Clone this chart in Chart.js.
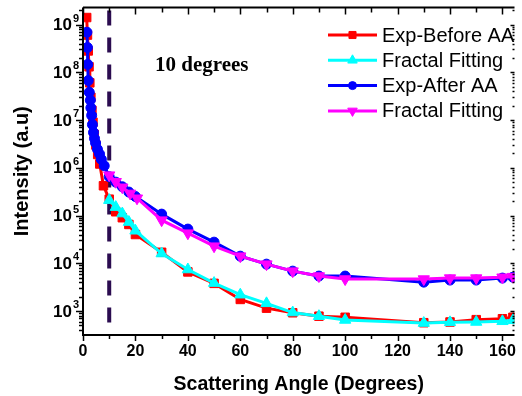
<!DOCTYPE html>
<html>
<head>
<meta charset="utf-8">
<script src="https://cdn.jsdelivr.net/npm/chart.js@4/dist/chart.umd.min.js"></script>
<style>
html, body { margin: 0; padding: 0; background: #fff; }
canvas { display: block; }
</style>
</head>
<body>
<canvas id="chart" width="522" height="396"></canvas>
<script>
// values
var beforeX = [1.4, 1.7, 2.0, 2.3, 2.6, 3.0, 3.4, 3.8, 4.3, 4.9, 5.6, 6.4, 7.8, 10, 12.5, 15, 17.5, 20, 30, 40, 50, 60, 70, 80, 90, 100, 130, 140, 150, 160, 164];
var beforeY = [1.4e9, 6e8, 2.8e8, 1.3e8, 6e7, 3e7, 1.6e7, 9e6, 5e6, 3e6, 1.9e6, 1.2e6, 4.2e5, 2.2e5, 1.2e5, 9e4, 6.5e4, 4e4, 1.7e4, 6.6e3, 3.8e3, 1750, 1150, 920, 780, 740, 570, 590, 660, 690, 740];

var fitBeforeX = [10, 12.5, 15, 17.5, 20, 30, 40, 50, 60, 70, 80, 90, 100, 130, 140, 150, 160, 164];
var fitBeforeY = [2.1e5, 1.5e5, 1.1e5, 7.3e4, 4.8e4, 1.6e4, 7.4e3, 3.85e3, 2.2e3, 1450, 930, 780, 650, 560, 580, 590, 610, 640];

var afterX = [1.5, 1.7, 1.8, 2.0, 2.4, 2.8, 3.0, 3.3, 3.6, 4.0, 4.4, 4.8, 5.5, 6.3, 7.0, 8.1, 10, 12.5, 15, 17.5, 20, 30, 40, 50, 60, 70, 80, 90, 100, 130, 140, 150, 160, 164];
var afterY = [6.9e8, 3.3e8, 1.46e8, 6.7e7, 3.8e7, 2.6e7, 1.8e7, 1.25e7, 8e6, 5.5e6, 4.1e6, 3.3e6, 2.45e6, 1.95e6, 1.5e6, 1.1e6, 6.5e5, 5e5, 4e5, 3.1e5, 2.5e5, 1.07e5, 5.2e4, 2.77e4, 1.41e4, 9.6e3, 6.85e3, 5.4e3, 5.4e3, 4.03e3, 4.45e3, 4.45e3, 4.9e3, 5.1e3];

var fitAfterX = [10, 12.5, 15, 18, 20.6, 30, 40, 50, 60, 70, 80, 90, 100, 130, 140, 150, 160, 164];
var fitAfterY = [7e5, 5.1e5, 3.9e5, 2.9e5, 2.3e5, 8e4, 4.27e4, 2.28e4, 1.41e4, 9.6e3, 6.85e3, 5.4e3, 4.67e3, 4.67e3, 4.9e3, 4.9e3, 5.1e3, 5.25e3];

var seriesNames = ['Exp-Before AA', 'Fractal Fitting', 'Exp-After AA', 'Fractal Fitting'];
var xTicks = [0, 20, 40, 60, 80, 100, 120, 140, 160];
var yPowers = [3, 4, 5, 6, 7, 8, 9];
var markAngle = 10;
var markLabel = '10 degrees';

function toPoints(xs, ys) {
  return xs.map(function (x, i) { return { x: x, y: ys[i] }; });
}

function series(label, xs, ys, color, style, radius, rot, order) {
  return {
    label: label,
    data: toPoints(xs, ys),
    borderColor: color,
    backgroundColor: color,
    borderWidth: 3,
    pointStyle: style,
    pointRadius: radius,
    pointRotation: rot,
    pointBorderWidth: 1,
    showLine: true,
    tension: 0,
    order: order
  };
}

var sets = [
  series(seriesNames[0], beforeX, beforeY, '#ff0000', 'rect', 6, 0, 4),
  series(seriesNames[1], fitBeforeX, fitBeforeY, '#00ffff', 'triangle', 6.5, 0, 3),
  series(seriesNames[2], afterX, afterY, '#0000ff', 'circle', 5, 0, 2),
  series(seriesNames[3], fitAfterX, fitAfterY, '#ff00ff', 'triangle', 6.5, 180, 1)
];

// dashed marker line at 10 degrees, under the data
var markLine = {
  id: 'markLine',
  beforeDatasetsDraw: function (chart) {
    var ctx = chart.ctx, ca = chart.chartArea;
    var px = chart.scales.x.getPixelForValue(markAngle);
    ctx.save();
    ctx.strokeStyle = '#2b0c50';
    ctx.lineWidth = 4;
    ctx.setLineDash([15, 12]);
    ctx.beginPath();
    ctx.moveTo(px, ca.top + 3);
    ctx.lineTo(px, ca.bottom);
    ctx.stroke();
    ctx.restore();
  }
};

// frame, tick marks, tick labels, legend and note
var frame = {
  id: 'frame',
  afterDraw: function (chart) {
    var ctx = chart.ctx, ca = chart.chartArea;
    var sx = chart.scales.x, sy = chart.scales.y;
    ctx.save();
    ctx.strokeStyle = '#000';
    ctx.lineWidth = 2;
    ctx.beginPath();
    ctx.moveTo(ca.left, ca.top);
    ctx.lineTo(ca.left, ca.bottom);
    ctx.lineTo(ca.right, ca.bottom);
    ctx.moveTo(ca.left, ca.top);
    ctx.lineTo(ca.right, ca.top);
    ctx.stroke();

    // x ticks
    ctx.lineWidth = 1.5;
    ctx.beginPath();
    for (var v = 0; v <= sx.max; v += 10) {
      var px = Math.round(sx.getPixelForValue(v)) + 0.5;
      var len = v % 20 === 0 ? 6 : 4;
      ctx.moveTo(px, ca.bottom);
      ctx.lineTo(px, ca.bottom + len);
      ctx.moveTo(px, ca.top);
      ctx.lineTo(px, ca.top + len + 1);
    }
    // y ticks (left outward, right edge short and inward)
    for (var p = 2; p <= 9; p++) {
      for (var m = 1; m <= 9; m++) {
        var val = m * Math.pow(10, p);
        if (val < sy.min || val > sy.max) continue;
        var py = Math.round(sy.getPixelForValue(val)) + 0.5;
        ctx.moveTo(ca.left, py);
        ctx.lineTo(ca.left - (m === 1 ? 7 : 4), py);
        ctx.moveTo(ca.right, py);
        ctx.lineTo(ca.right - (m === 1 ? 4 : 2), py);
      }
    }
    ctx.stroke();

    // tick labels
    ctx.fillStyle = '#000';
    ctx.font = 'bold 16px "Liberation Sans", Arial, sans-serif';
    ctx.textAlign = 'center';
    ctx.textBaseline = 'top';
    xTicks.forEach(function (t) {
      ctx.fillText(String(t), sx.getPixelForValue(t), ca.bottom + 9);
    });
    yPowers.forEach(function (e) {
      var py = sy.getPixelForValue(Math.pow(10, e));
      ctx.font = 'bold 17px "Liberation Sans", Arial, sans-serif';
      ctx.textAlign = 'right';
      ctx.textBaseline = 'middle';
      ctx.fillText('10', 72, py + 1);
      ctx.font = 'bold 11px "Liberation Sans", Arial, sans-serif';
      ctx.textAlign = 'left';
      ctx.fillText(String(e), 73, py - 6);
    });

    // legend
    ctx.font = '20px "Liberation Sans", Arial, sans-serif';
    ctx.textBaseline = 'middle';
    ctx.textAlign = 'left';
    sets.forEach(function (ds, i) {
      var y = 35 + i * 25.3;
      ctx.strokeStyle = ds.borderColor;
      ctx.lineWidth = 3;
      ctx.beginPath();
      ctx.moveTo(328, y);
      ctx.lineTo(377, y);
      ctx.stroke();
      ctx.fillStyle = ds.backgroundColor;
      ctx.lineWidth = 1;
      Chart.helpers.drawPoint(ctx, {
        pointStyle: ds.pointStyle,
        rotation: ds.pointRotation,
        radius: ds.pointRadius - 1,
        borderWidth: 1
      }, 352.5, y);
      ctx.fillStyle = '#000';
      ctx.fillText(ds.label, 382, y + 1);
    });

    // note
    ctx.font = 'bold 21px "Liberation Serif", "Times New Roman", serif';
    ctx.fillText(markLabel, 155, 66);
    ctx.restore();
  }
};

new Chart(document.getElementById('chart'), {
  type: 'scatter',
  data: { datasets: sets },
  plugins: [markLine, frame],
  options: {
    responsive: false,
    animation: false,
    layout: { padding: { top: 7, left: 0, right: 0, bottom: 0 } },
    plugins: {
      legend: { display: false },
      tooltip: { enabled: false }
    },
    scales: {
      x: {
        type: 'linear',
        min: 0,
        max: 164.6,
        grid: { display: false },
        border: { display: false },
        ticks: { display: false },
        title: {
          display: true,
          text: 'Scattering Angle (Degrees)',
          color: '#000',
          font: { family: '"Liberation Sans", Arial, sans-serif', size: 19.5, weight: 'bold' },
          padding: { top: 0, bottom: 0 }
        },
        afterFit: function (s) { s.height = 61; }
      },
      y: {
        type: 'logarithmic',
        min: 315,
        max: 2.27e9,
        grid: { display: false },
        border: { display: false },
        ticks: { display: false },
        title: {
          display: true,
          text: 'Intensity (a.u)',
          color: '#000',
          font: { family: '"Liberation Sans", Arial, sans-serif', size: 20, weight: 'bold' },
          padding: { top: 10, bottom: 0 }
        },
        afterFit: function (s) { s.width = 83; }
      }
    }
  }
});
</script>
</body>
</html>
